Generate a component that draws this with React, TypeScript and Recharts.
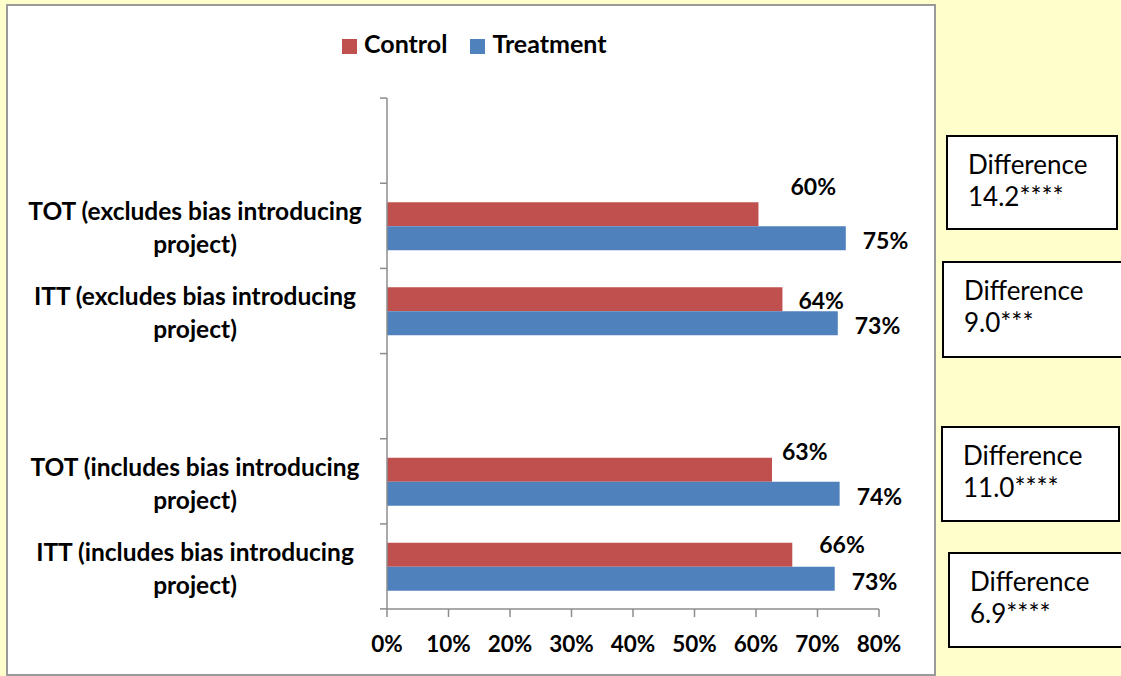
import { BarChart, Bar, XAxis, YAxis, Legend } from "recharts";

// Share of projects (percent) by estimate; blank rows are spacer slots
const categoryLines: string[][] = [
  [],
  ["TOT (excludes bias introducing", "project)"],
  ["ITT (excludes bias introducing", "project)"],
  [],
  ["TOT (includes bias introducing", "project)"],
  ["ITT (includes bias introducing", "project)"],
];
const controlValues = [null, 60.4, 64.3, null, 62.6, 65.9];
const treatmentValues = [null, 74.6, 73.3, null, 73.6, 72.8];
const xTicks = [0, 10, 20, 30, 40, 50, 60, 70, 80];
const differenceLabels = ["14.2****", "9.0***", "11.0****", "6.9****"];

// label nudges (px) for the control value labels, per row, relative to bar end / bar centre
const controlLabelDx = [0, 32, 16, 0, 10, 27];
const controlLabelDy = [0, -28, 1, 0, -19, -11];

const data = categoryLines.map((lines, i) => ({
  id: `row${i}`,
  lines,
  control: controlValues[i],
  treatment: treatmentValues[i],
}));

const FONT = "Lato, sans-serif";
const RED = "#C0504D";
const BLUE = "#4F81BD";
const AXIS = "#8C8C8C";

const CHART_W = 935;
const CHART_H = 676;
const MARGIN = { top: 68, right: 56, bottom: 27, left: 10 };
const Y_AXIS_W = 377;
const X_AXIS_H = 40;
const PLOT_H = 510;
const BAND = PLOT_H / categoryLines.length;

const boxLayout = [
  { left: 946, top: 135, width: 172, height: 95 },
  { left: 942, top: 261, width: 185, height: 97 },
  { left: 941, top: 426, width: 179, height: 96 },
  { left: 948, top: 552, width: 180, height: 96 },
];

function CategoryTick(props: any) {
  const { x, y, payload, index } = props;
  const row = data.find((d) => d.id === payload.value);
  const lines = row ? row.lines : [];
  const last = index === data.length - 1;
  return (
    <g>
      <line x1={x - 7} x2={x} y1={y - BAND / 2} y2={y - BAND / 2} stroke={AXIS} strokeWidth={1.5} />
      {last && (
        <line x1={x - 7} x2={x} y1={y + BAND / 2} y2={y + BAND / 2} stroke={AXIS} strokeWidth={1.5} />
      )}
      {lines.map((t, k) => (
        <text
          key={k}
          x={x - 192}
          y={y - 15 + k * 33}
          textAnchor="middle"
          dominantBaseline="central"
          fontFamily={FONT}
          fontWeight={700}
          fontSize={24.5}
          fill="#000"
        >
          {t}
        </text>
      ))}
    </g>
  );
}

function controlLabel(props: any) {
  const { x, y, width, height, value } = props;
  if (value == null) return null;
  const row = controlValues.indexOf(value);
  return (
    <text
      x={x + width + controlLabelDx[row]}
      y={y + height / 2 + controlLabelDy[row]}
      dominantBaseline="central"
      fontFamily={FONT}
      fontWeight={700}
      fontSize={23}
      fill="#000"
    >
      {`${Math.round(value)}%`}
    </text>
  );
}

function treatmentLabel(props: any) {
  const { x, y, width, height, value } = props;
  if (value == null) return null;
  return (
    <text
      x={x + width + 17}
      y={y + height / 2 + 2}
      dominantBaseline="central"
      fontFamily={FONT}
      fontWeight={700}
      fontSize={23}
      fill="#000"
    >
      {`${Math.round(value)}%`}
    </text>
  );
}

export default function App() {
  return (
    <div
      style={{
        position: "fixed",
        left: 0,
        top: 0,
        width: 1121,
        height: 676,
        background: "#FFFFCC",
        overflow: "hidden",
      }}
    >
      <div
        style={{
          position: "absolute",
          left: 6,
          top: 4,
          width: 926,
          height: 668,
          background: "#fff",
          border: "2px solid #9A9A9A",
        }}
      />
      <div style={{ position: "absolute", left: 0, top: 0 }}>
        <BarChart
          width={CHART_W}
          height={CHART_H}
          data={data}
          layout="vertical"
          margin={MARGIN}
          barSize={24}
          barGap={0}
        >
          <Legend
            verticalAlign="top"
            align="left"
            iconType="square"
            iconSize={15}
            wrapperStyle={{
              top: 28,
              left: 342,
              width: 400,
              fontFamily: FONT,
              fontWeight: 700,
              fontSize: 25,
            }}
            formatter={(v: string) => (
              <span style={{ color: "#000", marginLeft: 3, marginRight: 13 }}>{v}</span>
            )}
          />
          <XAxis
            type="number"
            domain={[0, 80]}
            ticks={xTicks}
            height={X_AXIS_H}
            tickFormatter={(v: number) => `${v}%`}
            axisLine={{ stroke: AXIS, strokeWidth: 1.5 }}
            tickLine={{ stroke: AXIS, strokeWidth: 1.5 }}
            tickSize={8}
            tickMargin={19}
            tick={{ fontFamily: FONT, fontWeight: 700, fontSize: 22.5, fill: "#000" }}
          />
          <YAxis
            type="category"
            dataKey="id"
            width={Y_AXIS_W}
            axisLine={{ stroke: AXIS, strokeWidth: 1.5 }}
            tickLine={false}
            tickSize={0}
            tickMargin={0}
            interval={0}
            tick={<CategoryTick />}
          />
          <Bar
            dataKey="control"
            name="Control"
            fill={RED}
            isAnimationActive={false}
            label={controlLabel}
          />
          <Bar
            dataKey="treatment"
            name="Treatment"
            fill={BLUE}
            isAnimationActive={false}
            label={treatmentLabel}
          />
        </BarChart>
      </div>
      {differenceLabels.map((d, i) => (
        <div
          key={i}
          style={{
            position: "absolute",
            ...boxLayout[i],
            boxSizing: "border-box",
            background: "#fff",
            border: "2px solid #000",
            padding: "11px 0 0 20px",
            fontFamily: FONT,
            fontSize: 26,
            lineHeight: "32px",
            color: "#000",
          }}
        >
          <div>Difference</div>
          <div>{d}</div>
        </div>
      ))}
    </div>
  );
}
